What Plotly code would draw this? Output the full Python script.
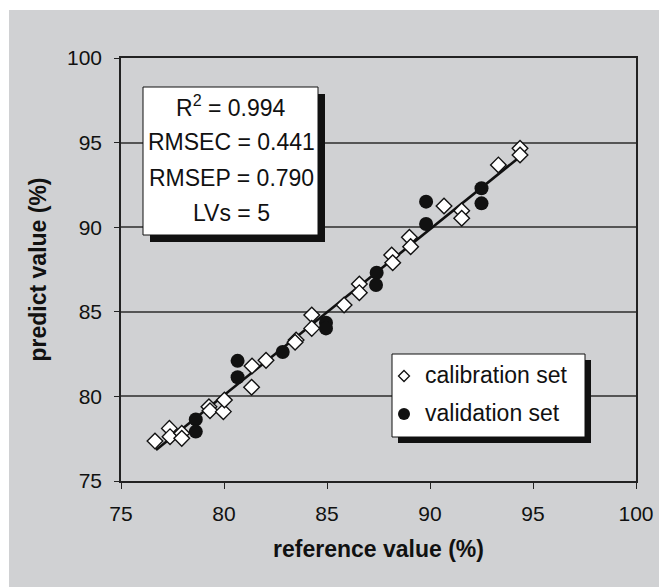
import plotly.graph_objects as go

# ---- data ----
cal_x = [76.65, 77.35, 77.38, 77.95, 77.95, 79.27, 79.32, 79.97, 80.02, 81.34, 81.36, 82.04,
         83.50, 83.45, 84.26, 84.26, 85.83, 86.57, 86.57, 88.14, 88.19, 89.00, 89.06, 90.68,
         91.54, 91.54, 93.32, 94.37, 94.37]
cal_y = [77.36, 78.11, 77.62, 77.82, 77.52, 79.39, 79.15, 79.10, 79.79, 80.54, 81.80, 82.13,
         83.33, 83.20, 84.81, 84.02, 85.40, 86.64, 86.13, 88.36, 87.90, 89.40, 88.85, 91.25,
         90.97, 90.53, 93.68, 94.66, 94.27]
val_x = [78.63, 78.63, 80.66, 80.66, 82.85, 84.95, 84.95, 87.41, 87.38, 89.81, 89.81, 92.50, 92.50]
val_y = [78.64, 77.92, 82.10, 81.13, 82.62, 84.36, 84.02, 87.31, 86.58, 91.51, 90.19, 92.30, 91.41]
fit_x = [76.70, 94.37]
fit_y = [76.83, 94.17]

stats_lines = ["R<sup>2</sup> = 0.994", "RMSEC = 0.441", "RMSEP = 0.790", "LVs = 5"]
legend_labels = ["calibration set", "validation set"]
x_ticks = [75, 80, 85, 90, 95, 100]
y_ticks = [75, 80, 85, 90, 95, 100]

# ---- geometry (page pixels; the page body adds an 8px offset) ----
PW, PH = 667, 587
O = 8
L, R, T, B = 121, 636, 58, 481
FONT = "Liberation Sans, Arial, sans-serif"
GRAY = "rgb(208,209,211)"
INK = "#111111"


def px(x):
    return (x - L) / (R - L)


def py(y):
    return (B - y) / (B - T)


fig = go.Figure()

fig.add_trace(go.Scatter(x=fit_x, y=fit_y, mode="lines",
                         line=dict(color=INK, width=2.6), showlegend=False,
                         hoverinfo="skip"))
fig.add_trace(go.Scatter(x=cal_x, y=cal_y, mode="markers", name=legend_labels[0],
                         marker=dict(symbol="diamond", size=12, color="white",
                                     line=dict(color=INK, width=1.4)),
                         showlegend=False))
fig.add_trace(go.Scatter(x=val_x, y=val_y, mode="markers", name=legend_labels[1],
                         marker=dict(symbol="circle", size=14, color=INK,
                                     line=dict(color=INK, width=0)),
                         showlegend=False))

shapes = []
# gray backdrop
shapes.append(dict(type="rect", xref="paper", yref="paper", x0=px(9), x1=px(PW + 20),
                   y0=py(PH + 20), y1=py(10), fillcolor=GRAY, line=dict(width=0), layer="below"))


def boxed(x0, y0, x1, y1, off):
    shapes.append(dict(type="rect", xref="paper", yref="paper", x0=px(x0 + off), x1=px(x1 + off),
                       y0=py(y1 + off), y1=py(y0 + off), fillcolor=INK,
                       line=dict(width=0), layer="above"))
    shapes.append(dict(type="rect", xref="paper", yref="paper", x0=px(x0), x1=px(x1),
                       y0=py(y1), y1=py(y0), fillcolor="white",
                       line=dict(color=INK, width=1), layer="above"))


boxed(143, 87, 318, 235, 7)
boxed(392, 354, 585, 437, 6)

# legend sample glyphs (drawn after the white box)
cx, cy, r = 404, 376, 5.5
shapes.append(dict(type="path", xref="paper", yref="paper", layer="above",
                   path="M {a},{b} L {c},{d} L {a},{e} L {f},{d} Z".format(
                       a=px(cx), b=py(cy - r), c=px(cx + r), d=py(cy), e=py(cy + r), f=px(cx - r)),
                   fillcolor="white", line=dict(color=INK, width=1.3)))
cx, cy, r = 404, 414, 6
shapes.append(dict(type="circle", xref="paper", yref="paper", layer="above",
                   x0=px(cx - r), x1=px(cx + r), y0=py(cy + r), y1=py(cy - r),
                   fillcolor=INK, line=dict(color=INK, width=0)))

annotations = []
for i, t in enumerate(stats_lines):
    annotations.append(dict(text=t, xref="paper", yref="paper", x=px(231), y=py([106, 142, 178, 213][i]),
                            xanchor="center", yanchor="middle", showarrow=False,
                            font=dict(family=FONT, size=23, color=INK)))
for i, t in enumerate(legend_labels):
    annotations.append(dict(text=t, xref="paper", yref="paper", x=px(423), y=py([375, 413][i]),
                            xanchor="left", yanchor="middle", showarrow=False,
                            font=dict(family=FONT, size=23, color=INK)))

fig.update_layout(
    width=PW - O, height=PH - O,
    margin=dict(l=L - O, r=PW - R, t=T - O, b=PH - B, pad=0),
    paper_bgcolor="white", plot_bgcolor="rgba(0,0,0,0)",
    shapes=shapes, annotations=annotations, showlegend=False,
    font=dict(family=FONT, color=INK),
)
fig.update_xaxes(range=[75, 100], tickvals=x_ticks, ticktext=[str(v) for v in x_ticks],
                 showgrid=False, zeroline=False, showline=True, linecolor="#222222", linewidth=1.5,
                 mirror=True, ticks="outside", ticklen=6, tickcolor="#222222", tickwidth=1.2,
                 ticklabelstandoff=7,
                 tickfont=dict(family=FONT, size=21, color=INK),
                 title=dict(text="<b>reference value (%)</b>", standoff=17,
                            font=dict(family=FONT, size=23, color=INK)))
fig.update_yaxes(range=[75, 100], tickvals=y_ticks, ticktext=[str(v) for v in y_ticks],
                 showgrid=True, gridcolor="#555555", gridwidth=1.5, zeroline=False,
                 showline=True, linecolor="#222222", linewidth=1.5,
                 mirror=True, ticks="outside", ticklen=5, tickcolor="#222222", tickwidth=1.2,
                 ticklabelstandoff=8,
                 tickfont=dict(family=FONT, size=21, color=INK),
                 title=dict(text="<b>predict value (%)</b>", standoff=14,
                            font=dict(family=FONT, size=23, color=INK)))

fig.write_html("out.html")
